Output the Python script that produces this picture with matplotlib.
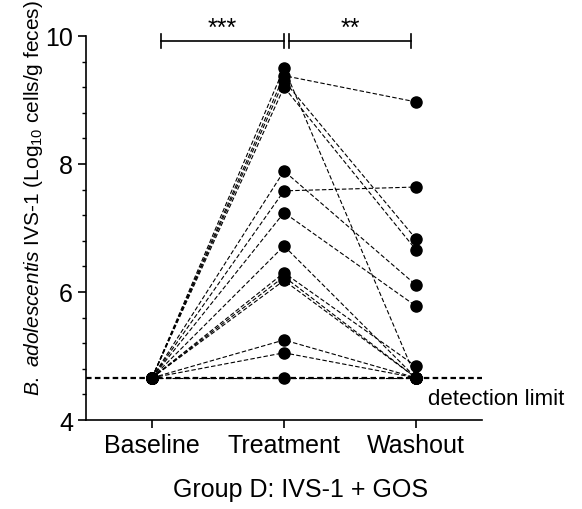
import matplotlib
matplotlib.use("Agg")
import matplotlib.pyplot as plt
import numpy as np

plt.rcParams['font.family'] = ['Liberation Sans', 'DejaVu Sans']
plt.rcParams['mathtext.fontset'] = 'custom'
plt.rcParams['mathtext.rm'] = 'Liberation Sans'
plt.rcParams['mathtext.it'] = 'Liberation Sans:italic'

# donnees (Log10 cellules/g feces)
groupes = ["Baseline", "Treatment", "Washout"]
baseline = [4.66] * 14
treatment = [9.50, 9.38, 9.30, 9.20, 7.89, 7.58, 7.24, 6.72, 6.30, 6.24, 6.18, 5.25, 5.05, 4.66]
washout = [4.66, 8.97, 6.83, 6.66, 6.11, 7.64, 5.78, 4.66, 4.84, 4.66, 4.66, 4.66, 4.66, 4.66]
limite = 4.66
signif = ["***", "**"]

fig = plt.figure(figsize=(5.82, 5.1), dpi=100)
ax = fig.add_axes([0.148, 0.1745, 0.680, 0.753])

x = np.arange(len(groupes))
for b, t, w in zip(baseline, treatment, washout):
    ax.plot(x, [b, t, w], color='black', lw=0.8, ls=(0, (4, 2)),
            marker='o', ms=8, mfc='black', mec='black', zorder=3)

ax.axhline(limite, color='black', lw=1.6, ls=(0, (2.5, 1.5)), zorder=2)
ax.text(2.09, 4.33, "detection limit", fontsize=16, ha='left', va='center', clip_on=False)

# barres de significativite
yb = 9.92
h = 0.11
for (x0, x1), s in zip([(0.07, 1.0), (1.04, 1.96)], signif):
    ax.plot([x0, x1], [yb, yb], color='black', lw=1.2, clip_on=False)
    ax.plot([x0, x0], [yb - h, yb + h], color='black', lw=1.2, clip_on=False)
    ax.plot([x1, x1], [yb - h, yb + h], color='black', lw=1.2, clip_on=False)
    ax.text((x0 + x1) / 2, yb + 0.02, s, fontsize=18, ha='center', va='bottom')

ax.set_xlim(-0.5, 2.5)
ax.set_ylim(4, 10)
ax.set_xticks(x)
ax.set_xticklabels(groupes, fontsize=18)
ax.set_yticks([4, 6, 8, 10])
ax.set_yticks(np.arange(4, 10.01, 0.4), minor=True)
ax.tick_params(axis='both', labelsize=18, length=6, width=1.2)
ax.tick_params(axis='y', which='minor', length=3, width=1.0)
ax.spines['top'].set_visible(False)
ax.spines['right'].set_visible(False)
ax.spines['left'].set_linewidth(1.2)
ax.spines['bottom'].set_linewidth(1.2)

ax.set_ylabel(r"$\it{B.}$ $\it{adolescentis}$ IVS-1 (Log$_{10}$ cells/g feces)", fontsize=15, labelpad=0)
ax.yaxis.label.set_y(0.58)
ax.set_xlabel("Group D: IVS-1 + GOS", fontsize=18, labelpad=14)
ax.xaxis.label.set_x(0.543)

fig.savefig("out.png", dpi=100)
